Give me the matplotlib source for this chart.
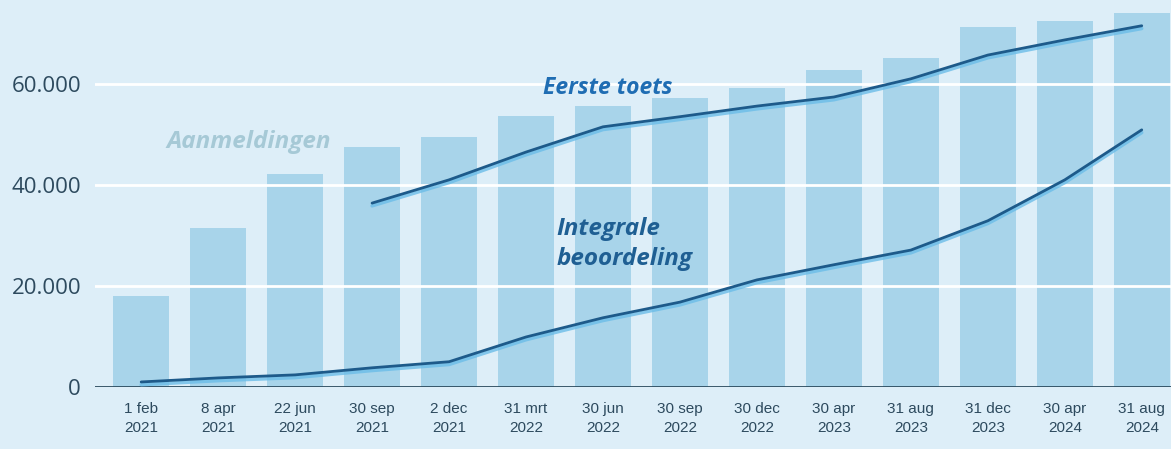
import matplotlib
matplotlib.use("Agg")
import matplotlib.pyplot as plt
import matplotlib.patheffects as pe
import numpy as np

labels = ["1 feb\n2021", "8 apr\n2021", "22 jun\n2021", "30 sep\n2021", "2 dec\n2021",
          "31 mrt\n2022", "30 jun\n2022", "30 sep\n2022", "30 dec\n2022", "30 apr\n2023",
          "31 aug\n2023", "31 dec\n2023", "30 apr\n2024", "31 aug\n2024"]
aanmeldingen = [18000, 31500, 42200, 47500, 49500, 53700, 55600, 57200, 59200, 62800,
                65100, 71300, 72500, 74100]
eerste_toets = [None, None, None, 36400, 41000, 46500, 51500, 53500, 55600, 57400,
                61000, 65700, 68700, 71500]
integrale = [1000, 1800, 2400, 3800, 5000, 9900, 13700, 16800, 21200, 24200,
             27100, 32900, 41000, 50900]
yticks = [0, 20000, 40000, 60000]
ytick_labels = ["0", "20.000", "40.000", "60.000"]

bg = "#ddeef8"
bar_c = "#a8d4ea"
line_c = "#1d5a8a"
glow_c = "#6bbde8"
text_c = "#2d4a5e"

fig = plt.figure(figsize=(11.71, 4.49), dpi=100, facecolor=bg)
ax = fig.add_axes([95/1171, 62/449, 1 - 95/1171, 387/449])
ax.set_facecolor(bg)

x = np.arange(len(labels))
ax.bar(x, aanmeldingen, width=0.73, color=bar_c, zorder=1)

for yv in yticks[1:]:
    ax.axhline(yv, color="white", lw=2, zorder=2)
ax.axhline(0, color="#2b4b5e", lw=2, zorder=4)

effects = [pe.SimpleLineShadow(offset=(0, -2), shadow_color=glow_c, alpha=0.8, linewidth=2.5),
           pe.Normal()]
xe = [xi for xi, v in zip(x, eerste_toets) if v is not None]
ye = [v for v in eerste_toets if v is not None]
ax.plot(xe, ye, color=line_c, lw=2.0, zorder=5, path_effects=effects, solid_capstyle="round")
ax.plot(x, integrale, color=line_c, lw=2.0, zorder=5, path_effects=effects, solid_capstyle="round")

ax.set_xlim(-0.6, 13.38)
ax.set_ylim(0, 76600)
ax.set_yticks(yticks)
ax.set_yticklabels(ytick_labels)
ax.set_xticks(x)
ax.set_xticklabels(labels)
for s in ax.spines.values():
    s.set_visible(False)
ax.tick_params(axis="both", length=0)
ax.tick_params(axis="y", pad=10, labelsize=16, labelcolor=text_c)
ax.tick_params(axis="x", pad=11, labelsize=11, labelcolor=text_c)
for t in ax.get_yticklabels():
    t.set_fontfamily(["Open Sans", "DejaVu Sans"])
for t in ax.get_xticklabels():
    t.set_fontfamily(["Liberation Sans Narrow", "Liberation Sans", "DejaVu Sans"])
    t.set_linespacing(1.45)

ax.text(6.06, 59200, "Eerste toets", color="#1f6db3", fontsize=16.5, fontweight="bold",
        fontstyle="italic", ha="center", va="center", zorder=6, family=["Open Sans", "DejaVu Sans"])
ax.text(1.4, 48500, "Aanmeldingen", color="#a6c9d6", fontsize=17.5, fontweight="bold",
        fontstyle="italic", ha="center", va="center", zorder=6, family=["Open Sans", "DejaVu Sans"])
ax.text(5.4, 28300, "Integrale\nbeoordeling", color="#1f5f93", fontsize=17.5, fontweight="bold",
        fontstyle="italic", ha="left", va="center", zorder=6, linespacing=1.3,
        family=["Open Sans", "DejaVu Sans"])

fig.savefig("out.png", dpi=100, facecolor=bg)
